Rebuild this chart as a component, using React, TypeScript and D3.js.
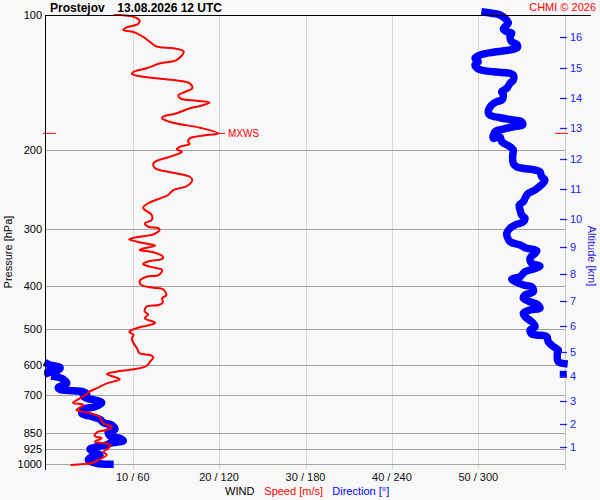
import React from 'react';
import * as d3 from 'd3';

// ---------- data ----------
const speedP = [100, 100, 101.2, 103.0, 104.8, 106.5, 108.0, 109.1, 111.8, 115.6,
  117.6, 118.6, 120.6, 125.9, 128.1, 131.4, 133.8, 135.3, 137.2, 139.6,
  142.0, 145.6, 148.2, 150.7, 153.3, 155.2, 156.7, 159.4, 161.3, 165.5,
  168.5, 169.8, 173.7, 178.2, 183.4, 185.0, 188.2, 191.4, 193.7, 196.4,
  199.1, 201.5, 204.3, 206.8, 210.3, 213.9, 219.4, 224.4, 229.1, 233.0,
  240.2, 245.2, 251.6, 255.9, 261.1, 268.5, 273.1, 278.7, 286.0, 290.9,
  296.0, 298.4, 301.0, 307.7, 311.5, 315.7, 319.6, 325.1, 326.3, 331.8,
  333.5, 337.4, 345.2, 349.2, 352.8, 358.2, 363.2, 369.5, 379.1, 382.4,
  390.9, 399.0, 404.5, 407.8, 420.0, 427.2, 436.0, 442.1, 445.9, 457.4,
  463.6, 473.2, 484.0, 489.8, 496.6, 506.9, 515.5, 524.3, 537.9, 551.9,
  566.2, 571.2, 577.9, 591.1, 604.3, 614.6, 622.2, 629.5, 646.9, 660.3,
  677.5, 689.3, 697.5, 713.0, 729.3, 738.0, 757.1, 767.6, 786.0, 810.5,
  824.7, 838.9, 846.2, 865.1, 875.3, 890.7, 905.9, 921.3, 937.5, 953.5,
  969.7, 991.8, 998.4, 1003.6];

const speedV = [7.8, 8.5, 10.3, 10.8, 10.6, 9.3, 8.9, 10.1, 11.2, 12.2,
  12.8, 14.7, 15.9, 15.1, 13.2, 11.6, 10.1, 9.9, 11.2, 14.7,
  16.6, 16.9, 16.1, 15.3, 15.5, 17.4, 18.9, 17.8, 16.6, 15.1,
  13.5, 13.4, 14.7, 17.8, 19.9, 18.6, 16.6, 16.4, 16.6, 15.5,
  15.1, 15.7, 15.1, 14.3, 13.0, 12.4, 12.6, 14.7, 16.6, 16.9,
  16.3, 14.7, 14.1, 13.2, 12.0, 11.2, 11.6, 12.2, 12.2, 11.4,
  11.8, 13.0, 13.1, 12.4, 10.8, 9.6, 10.5, 12.4, 12.6, 11.0,
  10.8, 12.4, 13.5, 13.4, 12.0, 11.2, 12.0, 13.4, 13.0, 11.6,
  10.8, 11.0, 12.4, 13.5, 13.9, 13.4, 13.5, 13.0, 11.6, 11.4,
  11.8, 11.4, 12.6, 12.0, 10.6, 9.6, 10.1, 9.9, 10.1, 10.5,
  10.8, 12.0, 12.4, 12.0, 11.6, 10.1, 8.1, 7.0, 8.5, 7.0,
  5.8, 5.0, 4.7, 3.9, 3.1, 4.3, 3.5, 4.9, 6.2, 6.6,
  7.6, 7.0, 6.0, 5.6, 6.4, 5.6, 7.4, 7.2, 6.6, 7.0,
  6.4, 5.4, 4.3, 2.8];

const dirP = [1000, 994.9, 978.2, 961.8, 953.5, 937.5, 926.1, 913.8, 905.9, 898.0,
  886.2, 875.3, 865.1, 846.2, 835.9, 817.6, 808.0, 794.1, 780.8, 770.0,
  754.4, 744.4, 729.3, 719.3, 713.0, 704.7, 697.5, 689.3, 685.9, 681.0,
  673.9, 660.3, 646.9, 638.3, 630.5, 626.5, 622.2, 616.8, 608.3, 601.2, 598.1,
  597.0, 591.1, 566.2, 556.7, 547.3, 533.5, 520.0, 515.5, 512.9, 502.5,
  494.1, 481.6, 469.3, 461.3, 453.5, 449.6, 439.8, 434.6, 427.2, 420.0,
  412.9, 402.5, 399.0, 387.5, 382.4, 372.7, 369.5, 362.0, 357.0, 348.0,
  339.2, 334.7, 330.6, 325.1, 319.6, 311.5, 306.1, 298.4, 293.4, 288.5,
  283.5, 278.7, 271.7, 264.8, 260.3, 255.9, 249.4, 245.2, 233.0, 229.1,
  223.2, 221.3, 217.7, 213.9, 205.0, 199.8, 196.4, 191.4, 186.6, 188.2,
  181.9, 179.4, 177.3, 175.8, 172.8, 171.3, 169.3, 167.0, 164.1, 158.6,
  155.9, 154.6, 150.7, 148.2, 145.6, 142.0, 139.6, 136.0, 134.8, 133.8,
  131.9, 129.2, 127.0, 124.8, 122.8, 121.0, 119.6, 118.2, 116.2, 114.7,
  111.8, 109.8, 108.9, 107.4, 104.3, 102.6, 100.0, 99.1, 98.6];

const dirV = [44.2, 35.0, 29.2, 31.5, 37.3, 32.6, 30.3, 35.0, 41.9, 44.2,
  53.5, 51.2, 44.2, 43.1, 47.7, 45.4, 39.6, 37.3, 30.3, 24.6,
  25.7, 33.8, 38.5, 33.8, 28.1, 25.7, 28.1, 25.7, 18.8, 9.5,
  8.3, 14.2, 11.8, 6.0, 359.0, 1.0, 1.0, 8.3, 9.5, 2.6, 1.0,
  359.5, 355.6, 354.9, 355.6, 352.1, 348.6, 347.5, 340.6, 337.1, 335.9,
  339.4, 337.1, 332.4, 331.3, 335.9, 342.8, 340.6, 335.9, 331.3, 332.4,
  338.2, 337.1, 331.3, 323.2, 329.0, 332.4, 335.9, 342.8, 337.1, 335.9,
  339.4, 340.6, 333.6, 329.0, 322.0, 320.1, 319.7, 322.0, 325.5, 331.3,
  332.4, 330.1, 329.0, 328.5, 331.3, 332.4, 334.7, 339.4, 346.3, 344.0,
  342.8, 339.4, 326.7, 324.3, 323.9, 324.3, 322.0, 316.3, 315.1, 310.4,
  311.6, 317.4, 324.3, 330.8, 330.1, 324.3, 315.1, 308.1, 306.9, 309.3,
  312.8, 316.3, 317.4, 316.3, 319.7, 322.0, 324.3, 324.3, 322.0, 310.4,
  300.0, 297.7, 300.0, 297.7, 301.2, 310.4, 322.0, 327.1, 326.7, 323.2,
  322.0, 323.2, 319.7, 317.4, 320.8, 319.7, 315.1, 309.3, 304.7];

const pressureTicks = [100, 200, 300, 400, 500, 600, 700, 850, 925, 1000];
const windTicks = [10, 20, 30, 40, 50];
const altKm = [1, 2, 3, 4, 5, 6, 7, 8, 9, 10, 11, 12, 13, 14, 15, 16];
const altP = [916.6, 813.5, 721.9, 636.1, 561.7, 493.0, 432.3, 377.7, 328.0, 284.5,
  244.4, 209.5, 178.7, 153.3, 131.4, 112.1];
const maxWindP = 183.4;
const maxWindSpeed = 19.9;

const FONT = '"Liberation Sans", Arial, Helvetica, sans-serif';
const RED = '#ff0000';
const BLUE = '#0000ff';
const AXBLUE = '#2222ee';

export default function App() {
  const W = 600, H = 500;
  const left = 46.3, right = 564.7, top = 15, bottom = 464.3;
  const x = d3.scaleLinear().domain([0, 60]).range([left, right]);
  const xd = d3.scaleLinear().domain([0, 360]).range([left, right]);
  const y = d3.scaleLog().domain([100, 1000]).range([top, bottom]);

  const speedLine = d3.line<number>()
    .x((_, i) => x(speedV[i]))
    .y((p) => y(p))
    .curve(d3.curveCatmullRom.alpha(0.5))(speedP) || '';

  // direction: break where it wraps across north
  const segs: [number, number][][] = [];
  let cur: [number, number][] = [];
  dirP.forEach((p, i) => {
    if (i > 0 && Math.abs(dirV[i] - dirV[i - 1]) > 180) {
      segs.push(cur);
      cur = [];
    }
    cur.push([xd(dirV[i]), y(p)]);
  });
  segs.push(cur);
  const dl = d3.line().curve(d3.curveCatmullRom.alpha(0.5));

  const axisX = 45;
  const yMW = y(maxWindP);

  return (
    <div style={{ position: 'absolute', left: 0, top: 0 }}>
      <svg width={W} height={H} style={{ display: 'block', fontFamily: FONT }}>
        <rect x={0} y={0} width={W} height={H} fill="#f8f8f8" />

        {/* vertical grid */}
        {windTicks.map((t) => (
          <line key={'v' + t} x1={Math.round(x(t)) + 0.5} x2={Math.round(x(t)) + 0.5} y1={top} y2={469}
            stroke="#d6d6d6" strokeWidth={1} />
        ))}
        {/* horizontal grid */}
        {pressureTicks.filter((p) => p !== 100).map((p) => (
          <line key={'h' + p} x1={axisX} x2={565.5} y1={Math.round(y(p)) + 0.5} y2={Math.round(y(p)) + 0.5}
            stroke="#a4a4a4" strokeWidth={1} />
        ))}
        {/* right axis line */}
        <line x1={565.5} x2={565.5} y1={top} y2={470} stroke="#c8c8c8" strokeWidth={1} />

        {/* direction */}
        {segs.map((s, i) =>
          s.length > 1 ? (
            <path key={'d' + i} d={dl(s) || ''} fill="none" stroke={BLUE} strokeWidth={7.5}
              strokeLinejoin="round" strokeLinecap="square" />
          ) : (
            <rect key={'d' + i} x={s[0][0] - 3.5} y={s[0][1] - 3.5} width={7} height={7} fill={BLUE} />
          )
        )}

        {/* speed */}
        <path d={speedLine} fill="none" stroke={RED} strokeWidth={2} strokeLinejoin="round" />

        {/* max wind markers */}
        <line x1={x(maxWindSpeed)} x2={x(maxWindSpeed) + 7} y1={yMW} y2={yMW} stroke={RED} strokeWidth={1} />
        <line x1={43} x2={56} y1={yMW} y2={yMW} stroke={RED} strokeWidth={1} />
        <line x1={555} x2={568} y1={yMW} y2={yMW} stroke={RED} strokeWidth={1} />
        <text x={228} y={yMW + 4} fontSize={10} fill={RED}>MXWS</text>

        {/* left axis & top line */}
        <line x1={axisX + 0.5} x2={axisX + 0.5} y1={top} y2={470} stroke="#000" strokeWidth={1} />
        <line x1={axisX} x2={591} y1={top + 0.5} y2={top + 0.5} stroke="#000" strokeWidth={1} />

        {/* pressure labels */}
        {pressureTicks.map((p) => (
          <text key={'pl' + p} x={42} y={y(p) + 4} fontSize={11} textAnchor="end" fill="#000">{p}</text>
        ))}
        <text transform="translate(12,252) rotate(-90)" fontSize={11} textAnchor="middle" fill="#000">Pressure [hPa]</text>

        {/* wind labels */}
        {windTicks.map((t) => (
          <text key={'wl' + t} x={x(t)} y={481} fontSize={11} textAnchor="middle" fill="#111">{`${t} / ${t * 6}`}</text>
        ))}
        <text x={225} y={494.5} fontSize={11} fill="#000">
          WIND
          <tspan x={264.3} fill={RED}>Speed [m/s]</tspan>
          <tspan x={332.3} fill={BLUE}>Direction [°]</tspan>
        </text>

        {/* altitude axis */}
        {altKm.map((k, i) => (
          <g key={'a' + k}>
            <line x1={560} x2={567} y1={Math.round(y(altP[i])) + 0.5} y2={Math.round(y(altP[i])) + 0.5}
              stroke={AXBLUE} strokeWidth={1.3} />
            <text x={570} y={y(altP[i]) + 4} fontSize={11} fill={AXBLUE}>{k}</text>
          </g>
        ))}
        <text transform="translate(588,256) rotate(90)" fontSize={11} textAnchor="middle" fill={AXBLUE}>Altitude [km]</text>

        {/* titles */}
        <text x={50} y={12} fontSize={12} fontWeight="bold" fill="#000">Prostejov</text>
        <text x={117.3} y={12} fontSize={12} fontWeight="bold" fill="#000">13.08.2026 12 UTC</text>
        <text x={596} y={11} fontSize={11} textAnchor="end" fill={RED}>CHMI © 2026</text>
      </svg>
    </div>
  );
}
